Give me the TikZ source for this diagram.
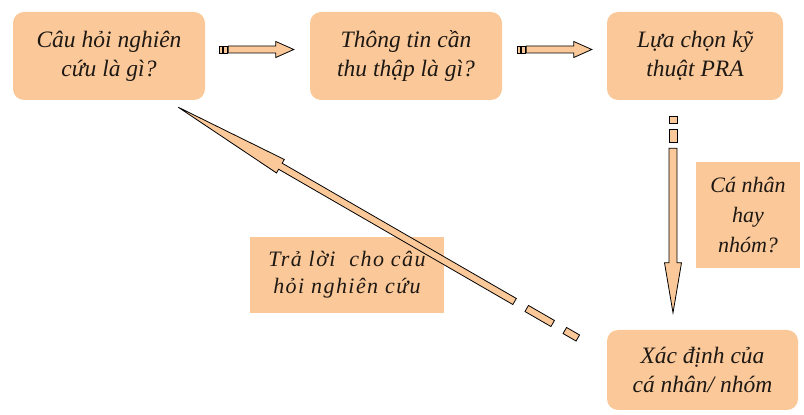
\documentclass[tikz,border=0pt]{standalone}
\usepackage{fontspec}
\setmainfont{Liberation Serif}
\usetikzlibrary{calc}

\definecolor{peach}{RGB}{251,201,153}
\definecolor{ink}{RGB}{30,24,20}

% direction (degrees) and length (pt) from #1 to #2, stored globally
\newcommand\orient[2]{%
  \path let \p1=(#1), \p2=(#2) in \pgfextra{%
    \pgfmathsetmacro\faang{atan2(\y2-\y1,\x2-\x1)}%
    \pgfmathsetmacro\falen{veclen(\x2-\x1,\y2-\y1)}%
    \global\let\faang\faang \global\let\falen\falen};%
}

% block arrow: #1 tail, #2 tip, #3 shaft half width, #4 head half width,
% #5 head length, #6 tail pieces (start/end), #7 where the shaft begins
\newcommand\fatarrow[7]{%
  \orient{#1}{#2}%
  \begin{scope}[shift={(#1)}, rotate=\faang]
    \foreach \ps/\pe in {#6}
      \draw[arrowbody] (\ps,-#3) -- (\pe,-#3) -- (\pe,#3) -- (\ps,#3) -- cycle;
    \draw[arrowbody] (#7,-#3) -- (\falen-#5,-#3) -- (\falen-#5,-#4) -- (\falen,0)
      -- (\falen-#5,#4) -- (\falen-#5,#3) -- (#7,#3) -- cycle;
  \end{scope}%
}

\tikzset{
  titlebox/.style={rounded corners=11pt, fill=peach, text=ink, align=center,
    inner sep=0pt, font={\fontsize{23.5}{29}\selectfont\itshape}},
  notebox/.style={fill=peach, text=ink, align=center, inner sep=0pt},
  arrowbody/.style={draw=black, fill=peach, line width=0.8pt, line join=miter},
}

\begin{document}
\begin{tikzpicture}[x=1pt, y=1pt]
  \useasboundingbox (0,0) rectangle (804,415);

  % question / step boxes
  \node[titlebox, minimum width=192pt, minimum height=88pt] (q1) at (109,359)
    {Câu hỏi nghiên\\cứu là gì?};
  \node[titlebox, minimum width=192pt, minimum height=88pt] (q2) at (406,359)
    {Thông tin cần\\thu thập là gì?};
  \node[titlebox, minimum width=176pt, minimum height=88pt] (q3) at (695,359)
    {Lựa chọn kỹ\\thuật PRA};
  \node[titlebox, minimum width=191pt, minimum height=80pt] (q5) at (702.5,45)
    {Xác định của\\cá nhân/ nhóm};

  % side notes
  \node[notebox, minimum width=104pt, minimum height=106pt,
        font={\fontsize{22}{30}\selectfont\itshape}] (n1) at (748,200)
    {Cá nhân\\hay\\nhóm?};
  \node[notebox, minimum width=194pt, minimum height=76pt,
        font={\fontsize{22}{27}\selectfont\itshape\addfontfeature{LetterSpace=6.5}}] (n2) at (347,140)
    {Trả lời~ cho câu\\hỏi nghiên cứu};

  % arrow end points
  \coordinate (a1t) at ($(q1.east)+(14,6.5)$);
  \coordinate (a1h) at ($(q2.west)+(-16,6.5)$);
  \coordinate (a2t) at ($(q2.east)+(15,6.5)$);
  \coordinate (a2h) at ($(q3.west)+(-15,6.5)$);
  \coordinate (a3t) at ($(q3.south)+(-22,-16)$);
  \coordinate (a3h) at ($(q5.north)+(-29.5,17)$);
  \coordinate (a4t) at ($(q5.west)+(-29,32)$);
  \coordinate (a4h) at ($(q1.south east)+(-27,-7)$);

  % arrows
  \fatarrow{a1t}{a1h}{3.5}{8}{18}{0/3.5,4.5/8}{9}
  \fatarrow{a2t}{a2h}{3.5}{8}{18}{0/3.5,4.5/8}{9}
  \fatarrow{a3t}{a3h}{4}{8.5}{50}{0/7,13/26}{32}
  \fatarrow{a4t}{a4h}{3.5}{7.8}{118}{0/15,29/59}{73}
\end{tikzpicture}
\end{document}
